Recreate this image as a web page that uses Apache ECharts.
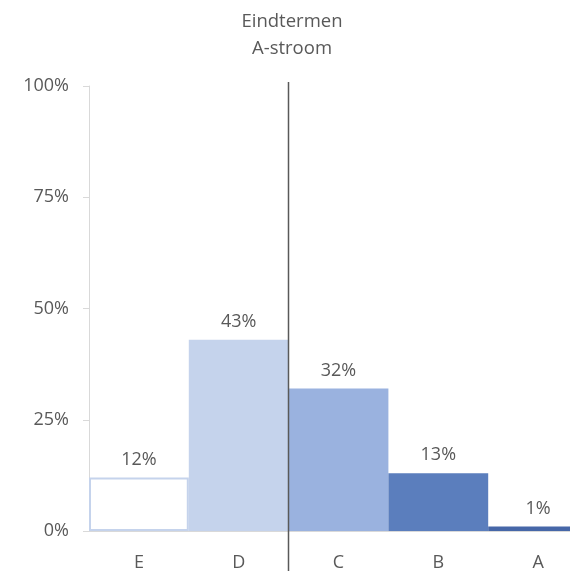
<!DOCTYPE html>
<html>
<head>
<meta charset="utf-8">
<script src="https://cdn.jsdelivr.net/npm/echarts@6/dist/echarts.min.js"></script>
<style>
  html, body { margin: 0; padding: 0; background: #fff; }
  #chart { width: 570px; height: 571px; }
</style>
</head>
<body>
<div id="chart"></div>
<script>
  const categories = ['E', 'D', 'C', 'B', 'A'];
  const values = [12, 43, 32, 13, 1];
  const barColors = ['#ffffff', '#c5d3ec', '#9ab2df', '#5b7ebd', '#4667a8'];
  const yTicks = [0, 25, 50, 75, 100];

  const chart = echarts.init(document.getElementById('chart'));
  const txt = '#595959';
  const font = '"Open Sans", "Noto Sans", sans-serif';

  let option = {
    backgroundColor: '#fff',
    animation: false,
    title: {
      text: 'Eindtermen\nA-stroom',
      left: 287,
      top: 3,
      textAlign: 'center',
      textStyle: {color: txt, fontSize: 18.5, fontWeight: 'normal', fontFamily: font, lineHeight: 27}
    },
    grid: {left: 89, width: 499, top: 86, bottom: 40, outerBoundsMode: 'none', containLabel: false},
    xAxis: {
      type: 'category',
      data: categories,
      axisLine: {lineStyle: {color: '#d9d9d9', width: 1}},
      axisTick: {show: false},
      axisLabel: {color: txt, fontSize: 18, fontFamily: font, margin: 23}
    },
    yAxis: {
      type: 'value',
      min: 0,
      max: 100,
      interval: 25,
      splitLine: {show: false},
      axisLine: {show: true, lineStyle: {color: '#d9d9d9', width: 1}},
      axisTick: {show: true, length: 6, lineStyle: {color: '#d9d9d9'}},
      axisLabel: {
        color: txt, fontSize: 18, fontFamily: font, margin: 20,
        formatter: function (v) { return yTicks.indexOf(v) >= 0 ? v + '%' : ''; }
      }
    },
    series: [{
      type: 'bar',
      barCategoryGap: '0%',
      data: values.map(function (v, i) {
        return {
          value: v,
          itemStyle: {
            color: barColors[i],
            borderColor: i === 0 ? '#c5d3ec' : barColors[i],
            borderWidth: i === 0 ? 2 : 0
          }
        };
      }),
      label: {
        show: true,
        position: 'top',
        distance: 9,
        color: txt,
        fontSize: 18,
        fontFamily: font,
        formatter: '{c}%'
      }
    }]
  };
  chart.setOption(option);

  // vertical divider between D and C
  const pD = chart.convertToPixel({xAxisIndex: 0}, 'D');
  const pC = chart.convertToPixel({xAxisIndex: 0}, 'C');
  const xDiv = Math.round((pD + pC) / 2) - 0.5;
  chart.setOption({
    graphic: [{
      type: 'line',
      shape: {x1: xDiv, y1: 82, x2: xDiv, y2: 571},
      style: {stroke: '#595959', lineWidth: 1.5},
      z: 100
    }]
  });
</script>
</body>
</html>
